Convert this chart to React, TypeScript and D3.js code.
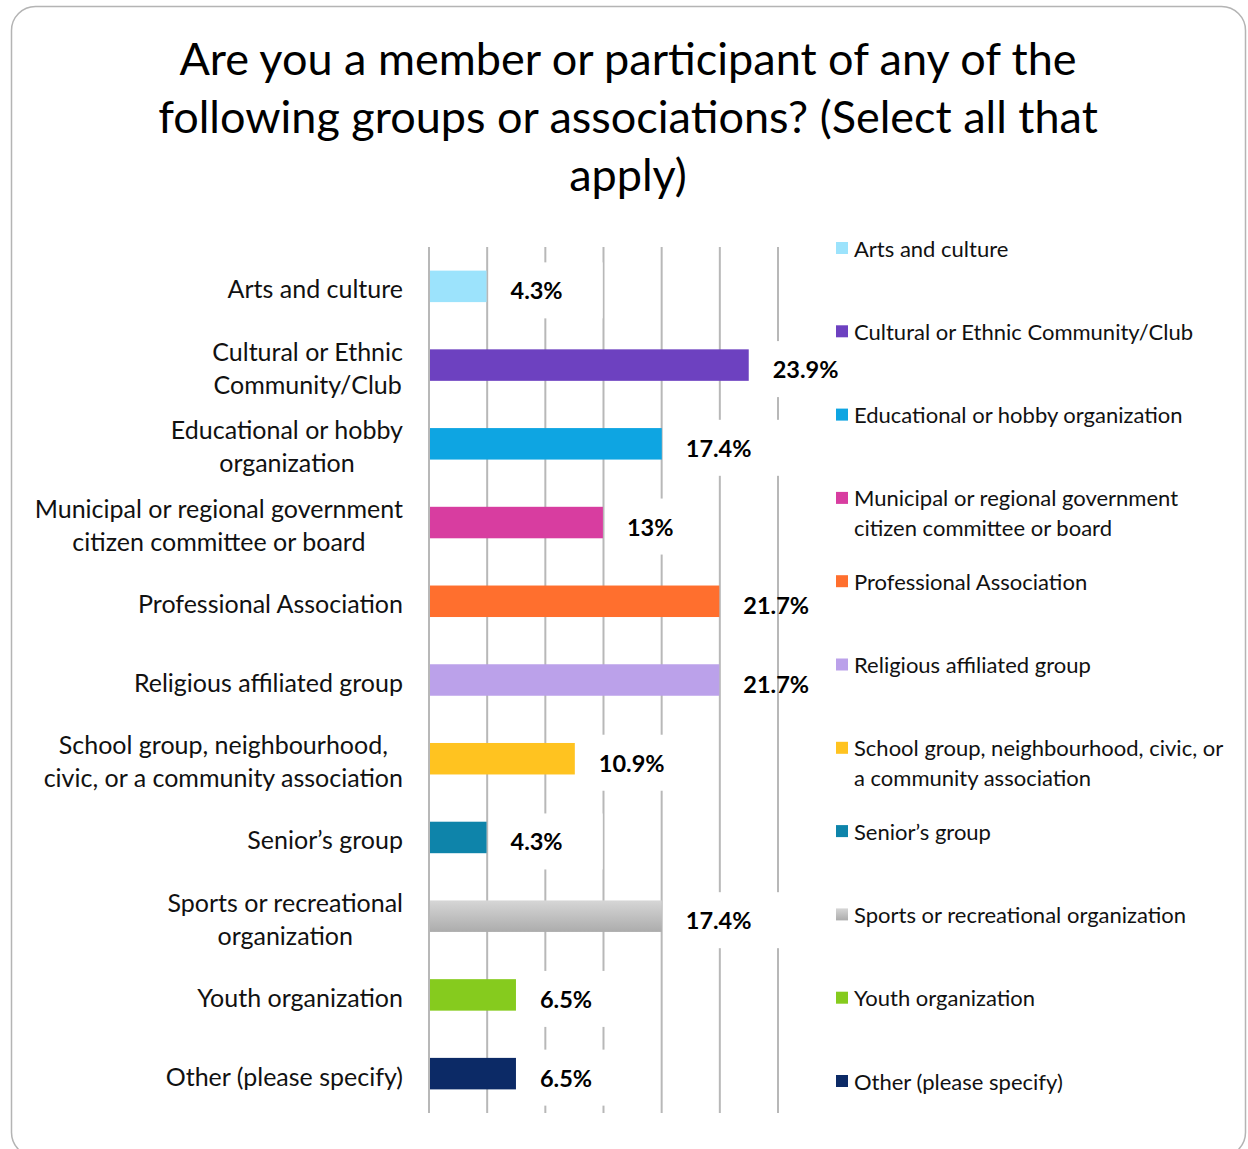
import React, { useEffect, useRef } from 'react';
import * as d3 from 'd3';

const titleLines = [
  'Are you a member or participant of any of the',
  'following groups or associations? (Select all that',
  'apply)',
];

const categoryNames = [
  'Arts and culture',
  'Cultural or Ethnic Community/Club',
  'Educational or hobby organization',
  'Municipal or regional government citizen committee or board',
  'Professional Association',
  'Religious affiliated group',
  'School group, neighbourhood, civic, or a community association',
  'Senior\u2019s group',
  'Sports or recreational organization',
  'Youth organization',
  'Other (please specify)',
];

const axisLabelLines = [
  ['Arts and culture'],
  ['Cultural or Ethnic', 'Community/Club'],
  ['Educational or hobby', 'organization'],
  ['Municipal or regional government', 'citizen committee or board'],
  ['Professional Association'],
  ['Religious affiliated group'],
  ['School group, neighbourhood,', 'civic, or a community association'],
  ['Senior\u2019s group'],
  ['Sports or recreational', 'organization'],
  ['Youth organization'],
  ['Other (please specify)'],
];

const legendLines = [
  ['Arts and culture'],
  ['Cultural or Ethnic Community/Club'],
  ['Educational or hobby organization'],
  ['Municipal or regional government', 'citizen committee or board'],
  ['Professional Association'],
  ['Religious affiliated group'],
  ['School group, neighbourhood, civic, or', 'a community association'],
  ['Senior\u2019s group'],
  ['Sports or recreational organization'],
  ['Youth organization'],
  ['Other (please specify)'],
];

const values = [4.3, 23.9, 17.4, 13, 21.7, 21.7, 10.9, 4.3, 17.4, 6.5, 6.5];
const valueLabels = ['4.3%', '23.9%', '17.4%', '13%', '21.7%', '21.7%', '10.9%', '4.3%', '17.4%', '6.5%', '6.5%'];

const colors = [
  '#9CE3FC', '#6D41C0', '#0EA5E2', '#D83DA0', '#FF6F2E', '#BBA1EA',
  '#FFC320', '#0E84AA', 'url(#grayGrad)', '#86CB1E', '#0C2A66',
];

const gridTicks = [0, 4.348, 8.696, 13.043, 17.391, 21.739, 26.087];

const FONT = 'Lato, "Open Sans", sans-serif';

export default function App() {
  const ref = useRef<SVGSVGElement | null>(null);

  useEffect(() => {
    const svg = d3.select(ref.current);
    svg.selectAll('*').remove();
    const W = 1248, H = 1149;

    const defs = svg.append('defs');
    const g = defs.append('linearGradient').attr('id', 'grayGrad').attr('x1', 0).attr('x2', 0).attr('y1', 0).attr('y2', 1);
    g.append('stop').attr('offset', '0%').attr('stop-color', '#d6d6d6');
    g.append('stop').attr('offset', '100%').attr('stop-color', '#acacac');

    svg.append('rect').attr('x', 0).attr('y', 0).attr('width', W).attr('height', H).attr('fill', '#fff');
    svg.append('rect')
      .attr('x', 11.5).attr('y', 6.5).attr('width', 1234).attr('height', 1150)
      .attr('rx', 24).attr('fill', '#fff').attr('stroke', '#b4b4b4').attr('stroke-width', 1.5);

    // title
    svg.append('g').selectAll('text').data(titleLines).join('text')
      .attr('x', 628).attr('y', (_d, i) => 58 + i * 58)
      .attr('text-anchor', 'middle').attr('dominant-baseline', 'central')
      .attr('font-family', FONT).attr('font-size', 45).attr('fill', '#000')
      .text(d => d);

    const x = d3.scaleLinear().domain([0, gridTicks[gridTicks.length - 1]]).range([429, 778]);
    const y = d3.scaleBand<string>().domain(categoryNames).range([247, 1113]).paddingInner(0.6).paddingOuter(0.3);

    // gridlines
    svg.append('g').selectAll('line').data(gridTicks).join('line')
      .attr('x1', d => x(d)).attr('x2', d => x(d))
      .attr('y1', 247).attr('y2', 1113)
      .attr('stroke', '#b8b8b8').attr('stroke-width', 2);

    // bars
    svg.append('g').selectAll('rect').data(values).join('rect')
      .attr('x', x(0) + 1)
      .attr('y', (_d, i) => y(categoryNames[i])!)
      .attr('width', d => x(d) - x(0) - 1)
      .attr('height', y.bandwidth())
      .attr('fill', (_d, i) => colors[i]);

    // value labels with white background
    const lblG = svg.append('g');
    values.forEach((v, i) => {
      const cy = y(categoryNames[i])! + y.bandwidth() / 2 + 4;
      const tx = x(v) + 24;
      const bg = lblG.append('rect');
      const t = lblG.append('text')
        .attr('x', tx).attr('y', cy)
        .attr('dominant-baseline', 'central')
        .attr('font-family', FONT).attr('font-size', 23.5).attr('font-weight', 'bold').attr('fill', '#000')
        .text(valueLabels[i]);
      const w = (t.node() as SVGTextElement).getComputedTextLength();
      if (valueLabels[i] !== '21.7%') {
        bg.attr('x', tx - 20).attr('y', cy - 28).attr('width', w + 60).attr('height', 56).attr('fill', '#fff');
      }
    });

    // category labels
    const catG = svg.append('g');
    axisLabelLines.forEach((lines, i) => {
      const cy = y(categoryNames[i])! + y.bandwidth() / 2 + 2;
      const texts = lines.map((ln, j) =>
        catG.append('text')
          .attr('y', cy + (j - (lines.length - 1) / 2) * 33)
          .attr('dominant-baseline', 'central')
          .attr('text-anchor', 'middle')
          .attr('font-family', FONT).attr('font-size', 25).attr('fill', '#111')
          .text(ln)
      );
      const maxW = d3.max(texts, t => (t.node() as SVGTextElement).getComputedTextLength()) || 0;
      texts.forEach(t => t.attr('x', 403 - maxW / 2));
    });

    // legend
    const legG = svg.append('g');
    legendLines.forEach((lines, i) => {
      const ly = 248 + i * 83.3;
      legG.append('rect').attr('x', 836).attr('y', ly - 6).attr('width', 12).attr('height', 12).attr('fill', colors[i]);
      lines.forEach((ln, j) => {
        legG.append('text')
          .attr('x', 854).attr('y', ly + j * 30)
          .attr('dominant-baseline', 'central')
          .attr('font-family', FONT).attr('font-size', 22).attr('fill', '#111')
          .text(ln);
      });
    });
  }, []);

  return (
    <div style={{ position: 'absolute', left: 0, top: 0 }}>
      <svg ref={ref} width={1248} height={1149} style={{ display: 'block' }} />
    </div>
  );
}
